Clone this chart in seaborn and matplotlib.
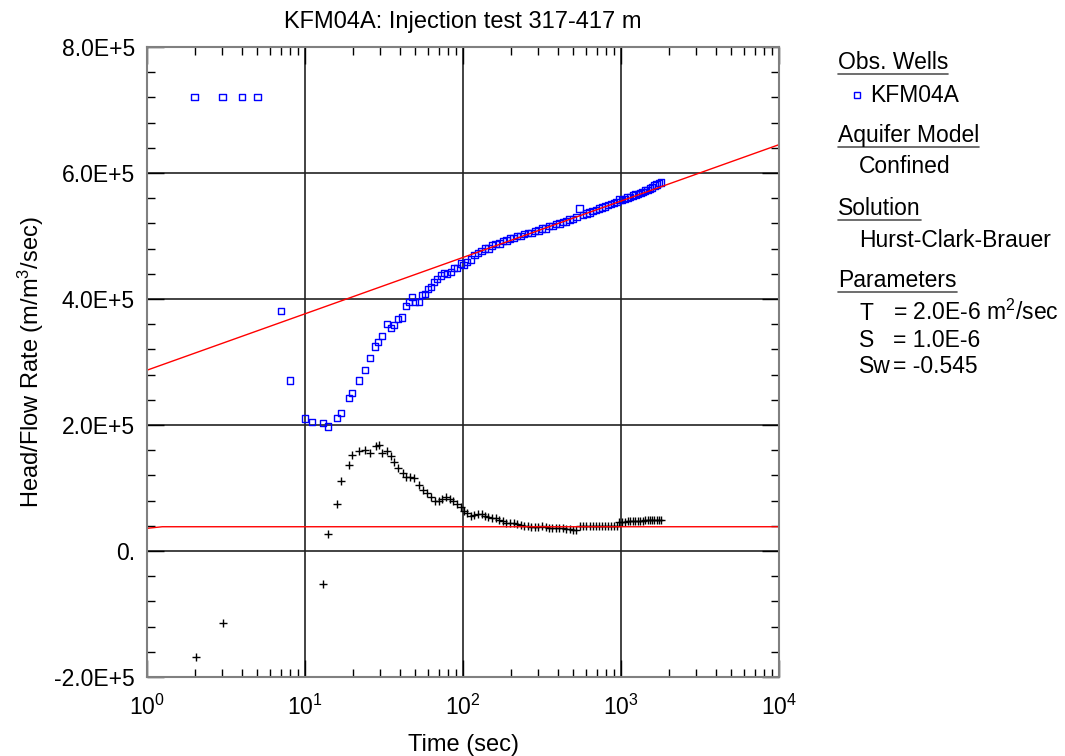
import numpy as np
import pandas as pd
import matplotlib
matplotlib.use("Agg")
import matplotlib.pyplot as plt
from matplotlib.lines import Line2D
from matplotlib.ticker import LogLocator, MultipleLocator, NullFormatter, FixedLocator, FixedFormatter
import seaborn as sns

# ---- data (head values in units of 1E+5) ----
obs_time = [2, 3, 4, 5, 7.05, 8.04, 10, 11.1, 13, 14, 15.9, 16.9, 19, 19.8, 22, 24, 25.8,
            27.7, 29, 30.7, 33, 35, 36.6, 38.8, 41, 43.6, 45.5, 47.5, 49.7, 52.5, 55, 57.5,
            60, 62.7, 65.5, 68.4, 72.6, 75.8, 79, 84, 87.7, 91.7, 97, 101,
            106, 112, 118, 124, 131, 138, 145, 153, 161, 170, 179, 188, 198, 209, 220,
            232, 244, 257, 271, 285, 300, 316, 333, 350, 368, 387, 407, 428, 450, 473,
            497, 522, 548, 575, 603, 632, 662, 693, 725, 758, 792, 827, 863, 900, 938,
            977, 1017, 1058, 1100, 1143, 1187, 1232, 1278, 1325, 1373, 1422, 1472, 1523,
            1575, 1628, 1682, 1737, 1790]
obs_head = [7.21, 7.21, 7.21, 7.21, 3.81, 2.71, 2.10, 2.05, 2.03, 1.98, 2.11, 2.19, 2.43,
            2.51, 2.71, 2.87, 3.06, 3.25, 3.32, 3.41, 3.60, 3.54, 3.59, 3.68, 3.71, 3.89,
            3.95, 4.03, 3.95, 3.95, 4.06, 4.08, 4.16, 4.19, 4.27, 4.32, 4.37, 4.41, 4.40,
            4.43, 4.49, 4.49, 4.56, 4.54,
            4.59, 4.63, 4.70, 4.73, 4.76, 4.80, 4.80, 4.85, 4.87, 4.88, 4.92, 4.93, 4.96,
            4.97, 5.00, 5.00, 5.03, 5.05, 5.05, 5.08, 5.09, 5.12, 5.12, 5.16, 5.16, 5.19,
            5.20, 5.22, 5.23, 5.26, 5.27, 5.30, 5.44, 5.33, 5.36, 5.37, 5.40, 5.41, 5.44,
            5.45, 5.47, 5.49, 5.51, 5.52, 5.54, 5.58, 5.57, 5.59, 5.61, 5.62, 5.64, 5.66,
            5.67, 5.68, 5.70, 5.72, 5.73, 5.75, 5.77, 5.80, 5.82, 5.84, 5.85]

deriv_time = [2.04, 3.03, 13, 14, 15.9, 16.9, 19, 19.8, 22, 24, 25.8, 28.1, 29.4, 30.7, 33,
              35, 36.6, 38.8, 41.6, 43.6, 46, 48.8, 52.5, 55.8, 59, 62.7, 66.5, 70.5, 73.6,
              78, 82.6, 86.5, 91.7, 97, 101,
              106, 112, 118, 124, 131, 138, 145, 153, 161, 170, 179, 188, 198, 209, 220,
              232, 244, 257, 271, 285, 300, 316, 333, 350, 368, 387, 407, 428, 450, 473,
              497, 522, 548, 575, 603, 632, 662, 693, 725, 758, 792, 827, 863, 900, 938,
              977, 1017, 1058, 1100, 1143, 1187, 1232, 1278, 1325, 1373, 1422, 1472, 1523,
              1575, 1628, 1682, 1737, 1790]
deriv_val = [-1.68, -1.14, -0.52, 0.27, 0.75, 1.11, 1.37, 1.52, 1.59, 1.60, 1.56, 1.67, 1.68,
             1.56, 1.59, 1.51, 1.41, 1.32, 1.24, 1.17, 1.17, 1.16, 1.05, 0.97, 0.92, 0.86,
             0.79, 0.79, 0.83, 0.86, 0.83, 0.79, 0.75, 0.70, 0.64,
             0.60, 0.56, 0.57, 0.58, 0.59, 0.56, 0.54, 0.53, 0.52, 0.50, 0.47, 0.45, 0.44,
             0.44, 0.43, 0.42, 0.40, 0.39, 0.38, 0.38, 0.38, 0.39, 0.38, 0.37, 0.37, 0.37,
             0.36, 0.36, 0.35, 0.35, 0.34, 0.33, 0.39, 0.40, 0.40, 0.40, 0.39, 0.39, 0.39,
             0.39, 0.39, 0.39, 0.39, 0.39, 0.40, 0.46, 0.46, 0.46, 0.47, 0.47, 0.47, 0.48,
             0.48, 0.48, 0.48, 0.49, 0.49, 0.49, 0.49, 0.49, 0.49, 0.49, 0.49]

fit_time = [1, 10000]
fit_head = [2.87, 6.45]
fit_deriv_time = [1, 1.25, 10000]
fit_deriv = [0.36, 0.385, 0.385]

y_ticks = [-2e5, 0, 2e5, 4e5, 6e5, 8e5]
y_ticklabels = ["-2.0E+5", "0.", "2.0E+5", "4.0E+5", "6.0E+5", "8.0E+5"]

SCALE = 1e5
obs = pd.DataFrame({"t": obs_time, "h": np.array(obs_head) * SCALE})
der = pd.DataFrame({"t": deriv_time, "d": np.array(deriv_val) * SCALE})
fit = pd.DataFrame({"t": fit_time, "h": np.array(fit_head) * SCALE})
fitd = pd.DataFrame({"t": fit_deriv_time, "d": np.array(fit_deriv) * SCALE})

# ---- style ----
sns.set_theme(style="ticks")
plt.rcParams["font.family"] = ["Liberation Sans", "DejaVu Sans"]
plt.rcParams["mathtext.fontset"] = "custom"
plt.rcParams["mathtext.rm"] = "Liberation Sans"
plt.rcParams["mathtext.it"] = "Liberation Sans:italic"
plt.rcParams["mathtext.bf"] = "Liberation Sans:bold"
for key in ["text.color", "axes.labelcolor", "xtick.color", "ytick.color",
            "xtick.labelcolor", "ytick.labelcolor"]:
    plt.rcParams[key] = "black"

W, H = 1065, 756
FS = 16.5
fig = plt.figure(figsize=(W / 100, H / 100), dpi=100)
fig.patch.set_facecolor("white")


def fx(px):
    return px / W


def fy(py):
    return 1 - py / H


ax = fig.add_axes([fx(147), fy(677), fx(779) - fx(147), fy(47) - fy(677)])
ax.set_facecolor("white")

sns.lineplot(data=fit, x="t", y="h", color="red", lw=1, ax=ax, zorder=4)
sns.lineplot(data=fitd, x="t", y="d", color="red", lw=1, ax=ax, zorder=4)
sns.scatterplot(data=obs, x="t", y="h", marker="s", s=22, facecolors="none",
                edgecolors="blue", linewidths=1, ax=ax, zorder=3)
sns.scatterplot(data=der, x="t", y="d", marker="+", s=30, color="black",
                linewidths=1, ax=ax, zorder=3)

ax.set_xscale("log")
ax.set_xlim(1, 1e4)
ax.set_ylim(-2e5, 8e5)
ax.xaxis.set_major_locator(LogLocator(base=10, numticks=10))
ax.xaxis.set_minor_locator(LogLocator(base=10, subs=np.arange(2, 10), numticks=20))
ax.xaxis.set_minor_formatter(NullFormatter())
ax.yaxis.set_major_locator(FixedLocator(y_ticks))
ax.yaxis.set_major_formatter(FixedFormatter(y_ticklabels))
ax.yaxis.set_minor_locator(MultipleLocator(4e4))

ax.grid(True, which="major", color="#222222", lw=1.2)
ax.tick_params(which="both", direction="in", top=True, right=True, color="black",
               labelcolor="black", labelsize=FS, width=1)
ax.tick_params(which="major", length=12)
ax.tick_params(axis="y", which="major", pad=8.6)
ax.tick_params(axis="x", which="major", pad=13)
ax.tick_params(which="minor", length=6)
for s in ax.spines.values():
    s.set_color("#808080")
    s.set_linewidth(1.5)
    s.set_zorder(5)

ax.set_xlabel("Time (sec)", fontsize=17, labelpad=10, color="black")
ax.set_ylabel("Head/Flow Rate (m/m$^3$/sec)", fontsize=17, labelpad=6, color="black")

fig.text(fx(463), fy(22), "KFM04A: Injection test 317-417 m", fontsize=17,
         ha="center", va="center", color="black")

# ---- side panel ----
headers = [("Obs. Wells", 69), ("Aquifer Model", 142), ("Solution", 215), ("Parameters", 287)]
header_texts = []
for label, base in headers:
    t = fig.text(fx(838), fy(base), label, fontsize=FS, ha="left", va="baseline")
    header_texts.append(t)

fig.text(fx(870), fy(102), "KFM04A", fontsize=FS, ha="left", va="baseline")
fig.add_artist(Line2D([fx(857)], [fy(95)], marker="s", ms=4, mfc="none", mec="blue",
                      mew=1, transform=fig.transFigure))
fig.text(fx(859), fy(173), "Confined", fontsize=FS, ha="left", va="baseline")
fig.text(fx(859), fy(247), "Hurst-Clark-Brauer", fontsize=FS, ha="left", va="baseline")
params = [("T", "= 2.0E-6 m$^2$/sec", 320), ("S", "= 1.0E-6", 347), ("Sw", "= -0.545", 373)]
for name, val, base in params:
    fig.text(fx(859), fy(base), name, fontsize=FS, ha="left", va="baseline")
    fig.text(fx(893), fy(base), val, fontsize=FS, ha="left", va="baseline")

fig.canvas.draw()
renderer = fig.canvas.get_renderer()
for t in header_texts:
    bb = t.get_window_extent(renderer=renderer)
    x0, x1 = bb.x0 / W, bb.x1 / W
    ybase = t.get_position()[1] - 5 / H
    fig.add_artist(Line2D([x0, x1], [ybase, ybase], color="#555555", lw=1.2,
                          transform=fig.transFigure))

fig.savefig("out.png", dpi=100)
